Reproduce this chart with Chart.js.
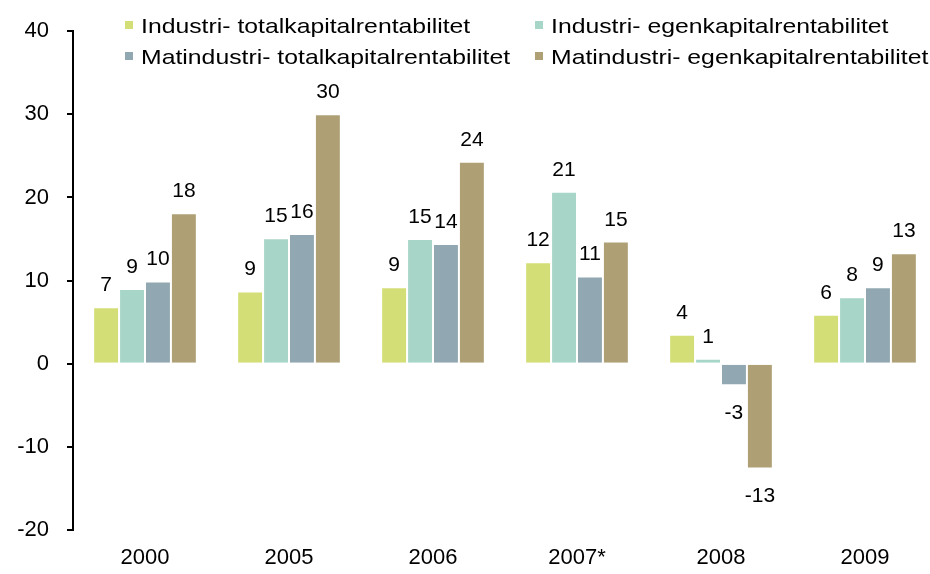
<!DOCTYPE html>
<html>
<head>
<meta charset="utf-8">
<script src="https://cdn.jsdelivr.net/npm/chart.js@4/dist/chart.umd.min.js"></script>
<style>
  html, body { margin: 0; padding: 0; background: #fff; overflow: hidden; }
  #wrap { position: relative; width: 930px; height: 574px; overflow: hidden; }
  #legend { position: absolute; left: 0; top: 0; font-family: "Liberation Sans", Arial, sans-serif; font-size: 21px; color: #000; }
  .box { position: absolute; width: 8px; height: 8px; }
  .txt { position: absolute; white-space: nowrap; line-height: 24px; transform: scaleX(1.18); transform-origin: left center; }
</style>
</head>
<body>
<div id="wrap">
  <canvas id="chart" width="937" height="574"></canvas>
  <div id="legend"></div>
</div>
<script>
// categories and series
const years = ["2000", "2005", "2006", "2007*", "2008", "2009"];
const industriTotal = [6.8, 8.7, 9.2, 12.2, 3.5, 5.9];
const industriEgen = [9.0, 15.1, 15.0, 20.7, 0.6, 8.0];
const matTotal = [9.9, 15.6, 14.4, 10.5, -2.6, 9.2];
const matEgen = [18.1, 30.0, 24.3, 14.7, -12.6, 13.3];

const seriesNames = [
  "Industri- totalkapitalrentabilitet",
  "Industri- egenkapitalrentabilitet",
  "Matindustri- totalkapitalrentabilitet",
  "Matindustri- egenkapitalrentabilitet"
];
const colors = ["#d4de76", "#a7d5c8", "#91a7b1", "#ae9f74"];
const FONT = "'Liberation Sans', Arial, sans-serif";

// legend in two columns over the top of the plot: [box x, row y]
const legendPos = [[125, 25], [535, 25], [125, 56], [535, 56]];
const legend = document.getElementById("legend");
seriesNames.forEach((name, i) => {
  const [x, y] = legendPos[i];
  const b = document.createElement("div");
  b.className = "box";
  b.style.left = x + "px";
  b.style.top = (y - 4) + "px";
  b.style.background = colors[i];
  legend.appendChild(b);
  const t = document.createElement("div");
  t.className = "txt";
  t.style.left = (x + 16) + "px";
  t.style.top = (y - 11) + "px";
  t.textContent = name;
  legend.appendChild(t);
});

// value labels above (or below) each bar
const barLabels = {
  id: "barLabels",
  afterDatasetsDraw(chart) {
    const ctx = chart.ctx;
    ctx.save();
    ctx.font = "21px " + FONT;
    ctx.fillStyle = "#000";
    ctx.textAlign = "center";
    ctx.textBaseline = "alphabetic";
    chart.data.datasets.forEach((ds, i) => {
      chart.getDatasetMeta(i).data.forEach((bar, j) => {
        const v = ds.data[j];
        const txt = String(Math.round(v));
        if (v >= 0) {
          ctx.fillText(txt, bar.x, bar.y - 16);
        } else {
          ctx.fillText(txt, bar.x, bar.y + 34);
        }
      });
    });
    ctx.restore();
  }
};

new Chart(document.getElementById("chart"), {
  type: "bar",
  data: {
    labels: years,
    datasets: [industriTotal, industriEgen, matTotal, matEgen].map((d, i) => ({
      label: seriesNames[i],
      data: d,
      backgroundColor: colors[i],
      borderColor: "#ffffff",
      borderWidth: 1,
      categoryPercentage: 0.72,
      barPercentage: 1
    }))
  },
  options: {
    responsive: false,
    animation: false,
    layout: { padding: { left: 0, right: 0, top: 28, bottom: 0 } },
    plugins: { legend: { display: false }, tooltip: { enabled: false } },
    scales: {
      x: {
        grid: { display: false, drawTicks: false },
        border: { display: false },
        ticks: { color: "#000", font: { family: FONT, size: 22 }, padding: 15 },
        afterFit: s => { s.height = 44; }
      },
      y: {
        min: -20,
        max: 40,
        ticks: { stepSize: 10, color: "#000", font: { family: FONT, size: 22 }, padding: 18 },
        grid: { drawOnChartArea: false, drawTicks: true, tickLength: 6, color: "#000", lineWidth: 2 },
        border: { display: true, color: "#000", width: 2 },
        afterFit: s => { s.width = 73; }
      }
    }
  },
  plugins: [barLabels]
});
</script>
</body>
</html>
